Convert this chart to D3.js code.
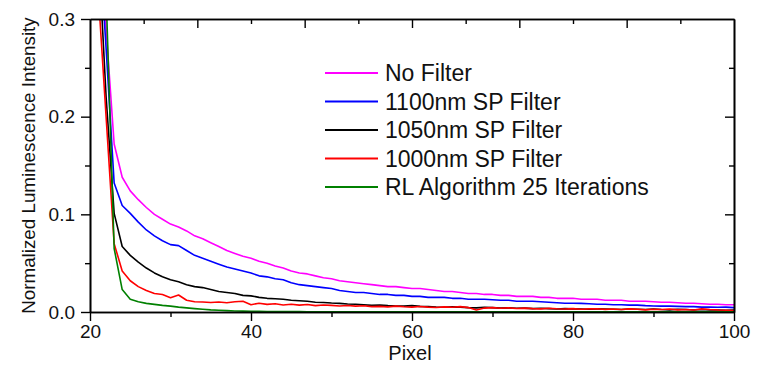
<!DOCTYPE html>
<html><head><meta charset="utf-8">
<script src="https://cdn.jsdelivr.net/npm/d3@7"></script>
<style>
html,body{margin:0;padding:0;background:#fff;}
svg{display:block;font-family:"Liberation Sans",Arial,sans-serif;}
</style></head>
<body>
<svg id="chart" width="763" height="365"></svg>
<script>
const pixels = d3.range(20, 101);
const seriesNames = ["No Filter", "1100nm SP Filter", "1050nm SP Filter", "1000nm SP Filter", "RL Algorithm 25 Iterations"];
const seriesColors = ["#ff00ff", "#0000ff", "#000000", "#ff0000", "#008000"];
const noFilter = [1.0,0.45,0.29,0.172,0.138,0.124,0.115,0.107,0.100,0.095,
 0.090,0.087,0.083,0.078,0.075,0.071,0.067,0.063,0.060,0.057,
 0.055,0.052,0.050,0.047,0.045,0.042,0.040,0.039,0.037,0.035,
 0.034,0.032,0.031,0.030,0.029,0.028,0.027,0.026,0.026,0.025,
 0.024,0.024,0.023,0.022,0.021,0.021,0.020,0.019,0.019,0.018,
 0.018,0.017,0.017,0.016,0.016,0.016,0.015,0.015,0.014,0.014,
 0.014,0.013,0.013,0.013,0.012,0.012,0.012,0.011,0.011,0.011,
 0.0105,0.010,0.010,0.0095,0.009,0.009,0.0085,0.008,0.008,0.0075,0.0075];
const filter1100 = [1.0,0.40,0.27,0.132,0.109,0.101,0.092,0.084,0.078,0.073,
 0.069,0.068,0.063,0.058,0.055,0.052,0.049,0.046,0.044,0.042,
 0.040,0.037,0.036,0.034,0.033,0.030,0.028,0.027,0.026,0.025,
 0.024,0.022,0.021,0.020,0.020,0.019,0.018,0.018,0.017,0.017,
 0.016,0.016,0.015,0.015,0.015,0.014,0.014,0.013,0.013,0.013,
 0.0125,0.012,0.012,0.011,0.011,0.011,0.0105,0.010,0.0095,0.009,
 0.009,0.0088,0.0085,0.008,0.008,0.0075,0.0075,0.007,0.007,0.0065,
 0.0062,0.006,0.006,0.0058,0.0055,0.0055,0.005,0.005,0.0048,0.005,0.0045];
const filter1050 = [1.0,0.38,0.22,0.101,0.067,0.058,0.051,0.045,0.040,0.036,
 0.033,0.031,0.028,0.026,0.025,0.023,0.021,0.020,0.019,0.017,
 0.0165,0.015,0.014,0.0135,0.013,0.012,0.0115,0.011,0.010,0.0098,
 0.0092,0.0088,0.0082,0.008,0.0075,0.0068,0.0072,0.0065,0.0062,0.006,
 0.0065,0.0058,0.0055,0.005,0.0048,0.0052,0.005,0.0045,0.0042,0.0048,
 0.0045,0.004,0.0042,0.0038,0.004,0.0035,0.0038,0.0035,0.003,0.0035,
 0.0032,0.003,0.0028,0.0032,0.003,0.0028,0.0025,0.003,0.0028,0.0025,
 0.003,0.0025,0.0022,0.0028,0.0025,0.002,0.0025,0.0022,0.002,0.0018,0.002];
const filter1000 = [1.0,0.33,0.20,0.070,0.042,0.032,0.026,0.022,0.019,0.018,
 0.0147,0.0174,0.012,0.0105,0.0102,0.0098,0.0102,0.0095,0.0105,0.011,
 0.0075,0.009,0.0078,0.0085,0.0072,0.008,0.007,0.0076,0.0065,0.0072,
 0.0068,0.0062,0.0066,0.006,0.0064,0.0055,0.0058,0.0052,0.006,0.0054,
 0.005,0.0056,0.005,0.0046,0.0052,0.0048,0.0055,0.0045,0.002,0.004,
 0.0045,0.0038,0.0042,0.0036,0.004,0.0035,0.0032,0.0038,0.0033,0.003,
 0.0035,0.0028,0.0032,0.0034,0.0027,0.003,0.0025,0.0032,0.0028,0.0022,
 0.0028,0.0025,0.003,0.0022,0.0026,0.002,0.0032,0.0025,0.002,0.0018,0.0015];
const rlAlgorithm = [1.0,0.6,0.326,0.065,0.023,0.013,0.0105,0.0088,0.0078,0.0068,
 0.006,0.005,0.0042,0.0035,0.0028,0.0022,0.0018,0.0014,0.0011,0.0009,
 0.0007,0.0006,0.0005,0.0005,0.0004,0.0004,0.0004,0.0003,0.0003,0.0003,
 0.0003,0.0003,0.0003,0.0002,0.0002,0.0002,0.0002,0.0002,0.0002,0.0002,
 0.0002,0.0002,0.0002,0.0002,0.0002,0.0002,0.0002,0.0002,0.0002,0.0002,
 0.0002,0.0002,0.0002,0.0002,0.0002,0.0002,0.0002,0.0002,0.0002,0.0002,
 0.0002,0.0002,0.0002,0.0002,0.0002,0.0002,0.0002,0.0002,0.0002,0.0002,
 0.0002,0.0002,0.0002,0.0002,0.0002,0.0002,0.0002,0.0002,0.0002,0.0002,0.0002];
const allSeries = [noFilter, filter1100, filter1050, filter1000, rlAlgorithm];
const xTicks = [20, 40, 60, 80, 100];
const xMinorTicks = [30, 50, 70, 90];
const yTicks = [0.0, 0.1, 0.2, 0.3];
const yMinorTicks = [0.05, 0.15, 0.25];
const xTitle = "Pixel";
const yTitle = "Normalized Luminescence Intensity";

const svg = d3.select("#chart");
const L = 90, R = 734, T = 19, B = 312;
const x = d3.scaleLinear().domain([20, 100]).range([L, R]);
const y = d3.scaleLinear().domain([0, 0.3]).range([B, T]);
const xTop = d3.scaleLinear().domain([0, 12]).range([L, R]);

svg.append("defs").append("clipPath").attr("id", "clip")
  .append("rect").attr("x", L).attr("y", T).attr("width", R - L).attr("height", B - T);

const line = d3.line().x((d, i) => x(pixels[i])).y(d => y(d));
const plot = svg.append("g").attr("clip-path", "url(#clip)");
allSeries.forEach((s, k) => {
  plot.append("path").datum(s).attr("d", line)
    .attr("fill", "none").attr("stroke", seriesColors[k])
    .attr("stroke-width", 1.6).attr("stroke-linejoin", "round");
});

function styleAxis(g) {
  g.select(".domain").attr("stroke", "#000").attr("stroke-width", 1.6);
  g.selectAll(".tick line").attr("stroke", "#000").attr("stroke-width", 1.4);
  g.selectAll("text").attr("fill", "#111").style("font-size", "19px")
    .style("font-family", "'Liberation Sans', Arial, sans-serif");
}
// bottom
svg.append("g").attr("transform", `translate(0,${B})`)
  .call(d3.axisBottom(x).tickValues(xTicks).tickFormat(d3.format("d")).tickSize(9).tickPadding(4).tickSizeOuter(0))
  .call(styleAxis);
svg.append("g").attr("transform", `translate(0,${B})`)
  .call(d3.axisBottom(x).tickValues(xMinorTicks).tickFormat("").tickSize(5).tickSizeOuter(0))
  .call(styleAxis);
// left
svg.append("g").attr("transform", `translate(${L},0)`)
  .call(d3.axisLeft(y).tickValues(yTicks).tickFormat(d3.format(".1f")).tickSize(9).tickPadding(6).tickSizeOuter(0))
  .call(styleAxis);
svg.append("g").attr("transform", `translate(${L},0)`)
  .call(d3.axisLeft(y).tickValues(yMinorTicks).tickFormat("").tickSize(5).tickSizeOuter(0))
  .call(styleAxis);
// right
svg.append("g").attr("transform", `translate(${R},0)`)
  .call(d3.axisRight(y).tickValues([0.1, 0.2]).tickFormat("").tickSize(-9).tickSizeOuter(0))
  .call(styleAxis);
svg.append("g").attr("transform", `translate(${R},0)`)
  .call(d3.axisRight(y).tickValues(yMinorTicks).tickFormat("").tickSize(-5).tickSizeOuter(0))
  .call(styleAxis);
// top
svg.append("g").attr("transform", `translate(0,${T})`)
  .call(d3.axisTop(xTop).tickValues([2, 4, 6, 8, 10]).tickFormat("").tickSize(-9).tickSizeOuter(0))
  .call(styleAxis);
svg.append("g").attr("transform", `translate(0,${T})`)
  .call(d3.axisTop(xTop).tickValues([1, 3, 5, 7, 9, 11]).tickFormat("").tickSize(-5).tickSizeOuter(0))
  .call(styleAxis);

// titles
svg.append("text").attr("x", (L + R) / 2 - 2).attr("y", 360).attr("text-anchor", "middle")
  .style("font-size", "20px").attr("fill", "#111").text(xTitle);
svg.append("text").attr("transform", `translate(35,${(T + B) / 2}) rotate(-90)`)
  .attr("text-anchor", "middle").style("font-size", "18.8px").attr("fill", "#111").text(yTitle);

// legend
const legend = svg.append("g");
seriesNames.forEach((name, k) => {
  const cy = 73 + k * 28.5;
  legend.append("line").attr("x1", 325).attr("x2", 378).attr("y1", cy).attr("y2", cy)
    .attr("stroke", seriesColors[k]).attr("stroke-width", 1.8);
  legend.append("text").attr("x", 385).attr("y", cy + 8).style("font-size", "23px")
    .attr("fill", "#111").text(name);
});
</script>
</body></html>
